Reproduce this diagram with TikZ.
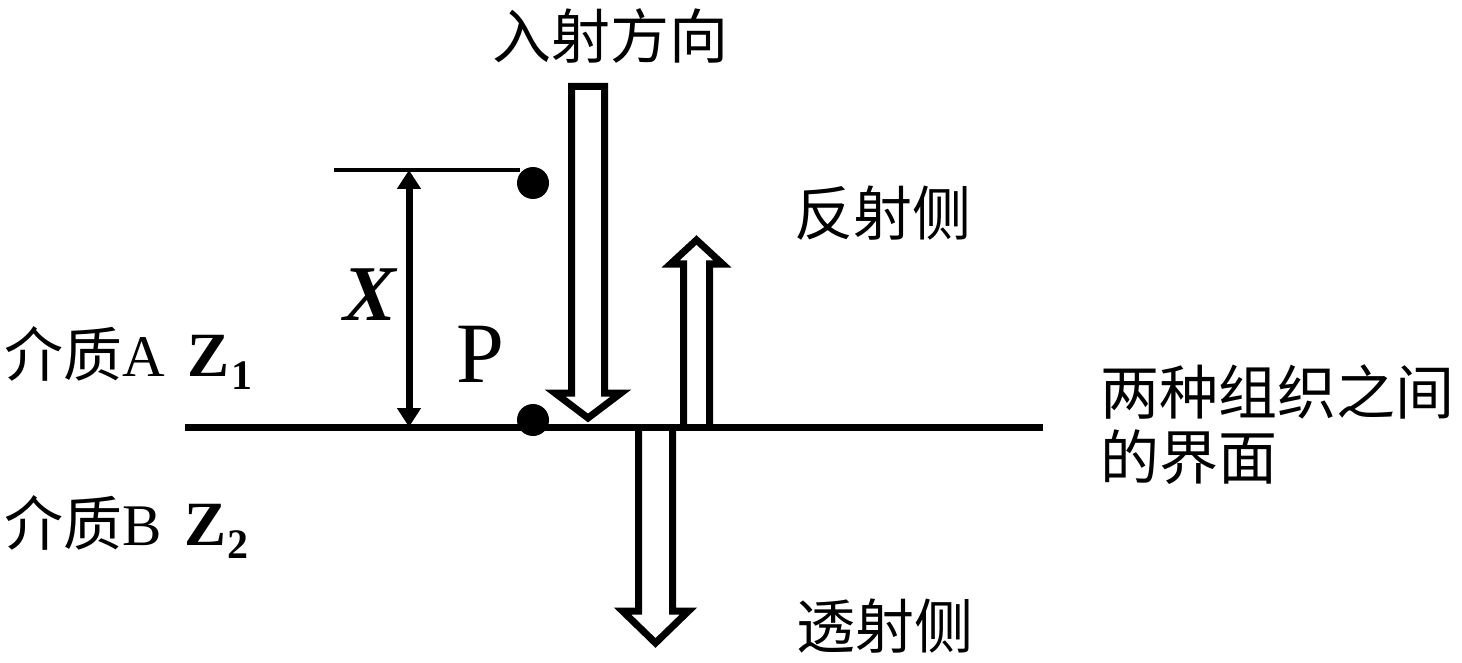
\documentclass[tikz,border=0pt]{standalone}
\usepackage{fontspec}
\setmainfont{Liberation Serif}
\newfontfamily\cjk{Noto Sans CJK SC}
\usetikzlibrary{arrows.meta}
\begin{document}
\begin{tikzpicture}[x=1pt,y=-1pt,
  lbl/.style={inner sep=0pt, outer sep=0pt, font=\fontsize{59}{65}\selectfont},
  blk/.style={line width=7pt, line join=miter, miter limit=10},
  dot/.style={circle, fill=black, inner sep=0pt, minimum size=32pt},
  dim/.style={line width=7pt, {Triangle[width=23pt,length=19pt]}-{Triangle[width=23pt,length=19pt]}}
]
\useasboundingbox (0,0) rectangle (1462,663);

% interface line
\coordinate (ifL) at (185,427);
\coordinate (ifR) at (1043,427);
\draw[line width=7pt] (ifL) -- (ifR);

% top reference line and dimension arrow
\coordinate (tL) at (334,170);
\coordinate (tR) at (520,170);
\draw[line width=4.5pt] (tL) -- (tR);
\coordinate (dimT) at (409,170);
\coordinate (dimB) at (409,427);
\draw[dim] (dimT) -- (dimB);

% dots
\node[dot] (d1) at (533,183) {};
\node[dot] (d2) at (533,420) {};

% incident arrow
\draw[blk] (571.5,86.5) -- (604.5,86.5) -- (604.5,393) -- (621,393) -- (588,418) -- (555,393) -- (571.5,393) -- cycle;

% reflected arrow
\draw[blk] (683.5,427) -- (683.5,264) -- (670.5,264) -- (696.5,240) -- (722.5,264) -- (709.5,264) -- (709.5,427);

% transmitted arrow
\draw[blk] (638.5,427) -- (638.5,611) -- (622.5,611) -- (655.5,643) -- (688.5,611) -- (672.5,611) -- (672.5,427);

% labels
\node[lbl, anchor=base] (inc) at (610,59) {\cjk 入射方向};
\node[lbl, anchor=base] (refl) at (883,236) {\cjk 反射侧};
\node[lbl, anchor=base] (trans) at (885,648) {\cjk 透射侧};
\node[lbl, anchor=base west] (if1) at (1100,414) {\cjk 两种组织之间};
\node[lbl, anchor=base west] (if2) at (1100,479) {\cjk 的界面};
\node[lbl, anchor=base west] (mA) at (5,376) {{\cjk 介质}A\hspace{22pt}{\fontsize{63}{63}\selectfont\bfseries Z}\hspace{2pt}\raisebox{-13pt}{\fontsize{42}{42}\selectfont\bfseries 1}};
\node[lbl, anchor=base west] (mB) at (5,545) {{\cjk 介质}B\hspace{22pt}{\fontsize{63}{63}\selectfont\bfseries Z}\hspace{1pt}\raisebox{-13pt}{\fontsize{42}{42}\selectfont\bfseries 2}};
\node[inner sep=0pt, anchor=base, font=\fontsize{79}{80}\selectfont\bfseries\itshape] (X) at (370,320) {X};
\node[inner sep=0pt, anchor=base, font=\fontsize{86}{86}\selectfont] (P) at (480,382) {P};
\end{tikzpicture}
\end{document}
